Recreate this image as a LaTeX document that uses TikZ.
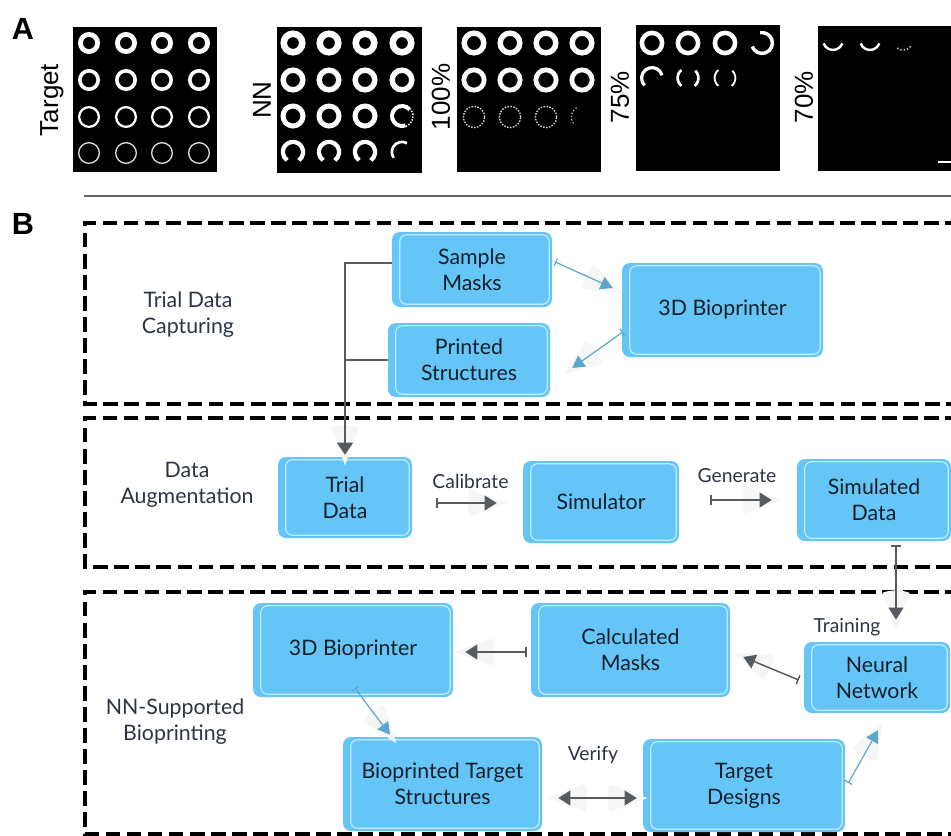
\documentclass[tikz,border=0pt]{standalone}
\usepackage{fontspec}
\setmainfont{Lato}
\newfontfamily\arialf{Liberation Sans}
\usetikzlibrary{calc,arrows.meta}

\definecolor{boxblue}{HTML}{66C5F7}
\definecolor{boxrim}{HTML}{C2EAFD}
\definecolor{flowteal}{HTML}{5AA7CA}
\definecolor{flowgray}{HTML}{565B60}
\definecolor{ink}{HTML}{141F2A}
\definecolor{glowfill}{HTML}{F6F6F7}

\newcommand\boxfont{\fontsize{16}{19.5}\selectfont}
\newcommand\stagefont{\fontsize{16}{19.5}\selectfont}
\newcommand\verbfont{\fontsize{14.5}{17}\selectfont}

% soft wedge behind an arrow head, pointing along the arrow
\newcommand\glow[2]{%
  \fill[glowfill] let \p1=(#1), \p2=(#2), \n1={atan2(\y2-\y1,\x2-\x1)} in
    ($(\p2)+(\n1:8pt)$) -- ++(\n1+160:30pt)
    arc[start angle=\n1+160, end angle=\n1+200, radius=30pt] -- cycle;}

\tikzset{
  box/.style={rectangle, rounded corners=6pt, fill=boxblue, text=ink,
    align=center, font=\boxfont, inner sep=0pt},
  rim/.style={draw=boxrim, line width=0.9pt, rounded corners=5pt},
  stage/.style={align=center, font=\stagefont, text=ink!90},
  verb/.style={font=\verbfont, text=ink!90},
  zone/.style={draw=black, line width=2.6pt, dash pattern=on 11pt off 4.8pt},
  gline/.style={draw=flowgray, line width=1.1pt},
  tline/.style={draw=flowteal, line width=0.9pt},
  gflow/.style={gline, {Bar[width=7pt]}-{Triangle[length=9pt,width=11pt]}},
  tflow/.style={tline, {Bar[width=6pt]}-{Triangle[length=9pt,width=10pt]}},
  ring/.style={draw=white},
  plabel/.style={font=\arialf\fontsize{19.5}{20}\selectfont, rotate=90},
  letter/.style={font=\arialf\bfseries\fontsize{23}{24}\selectfont}
}

\begin{document}
\begin{tikzpicture}[x=0.75pt,y=-0.75pt]
\useasboundingbox (0,0) rectangle (951,836);

% ---------------- panel A ----------------
\node[letter] (la) at (23,29) {A};

% target masks
\fill[black] (73,27) rectangle (217,172);
\foreach \x in {89,126,162,199}{
  \draw[ring, line width=3.6pt]  (\x,43)  circle[radius=6.45pt];
  \draw[ring, line width=2.7pt] (\x,80)  circle[radius=6.9pt];
  \draw[ring, line width=1.7pt] (\x,117) circle[radius=7.4pt];
  \draw[draw=white!85!black, line width=1pt] (\x,153) circle[radius=7.75pt];
}
\node[plabel] (lt) at (52,100) {Target};

% NN prints
\fill[black] (277,27) rectangle (422,173);
\foreach \x in {293,329,365,402}{
  \draw[ring, line width=4.9pt] (\x,43) circle[radius=6.95pt];
  \draw[ring, line width=4.1pt] (\x,80) circle[radius=7.35pt];
}
\foreach \x in {293,329,365}{
  \draw[ring, line width=3.75pt] (\x,116) circle[radius=7.5pt];
  \draw[ring, line width=3.2pt] (\x,152) ++(-55:7.6pt) arc[start angle=-55, end angle=235, radius=7.6pt];
}
\draw[ring, line width=3pt] (402,116) ++(40:7.5pt) arc[start angle=40, end angle=290, radius=7.5pt];
\draw[ring, line width=1.2pt, dash pattern=on 1pt off 1.2pt] (402,116) ++(-70:8.3pt) arc[start angle=-70, end angle=40, radius=8.3pt];
\draw[ring, line width=2pt] (402,152) ++(60:7.6pt) arc[start angle=60, end angle=215, radius=7.6pt];
\node[plabel] (ln) at (262,100) {NN};

% 100 %
\fill[black] (457,27) rectangle (601,172);
\foreach \x in {474,510,546,582}{
  \draw[ring, line width=4.1pt] (\x,43) circle[radius=7.35pt];
  \draw[ring, line width=3.6pt] (\x,80) circle[radius=7.6pt];
}
\foreach \x in {474,510,546}{
  \draw[draw=white!85!black, line width=1pt, dash pattern=on 1.2pt off 1pt] (\x,117) circle[radius=8pt];
}
\draw[draw=white!75!black, line width=0.9pt, dash pattern=on 1pt off 1.5pt] (582,117) ++(120:8pt) arc[start angle=120, end angle=220, radius=8pt];
\node[plabel] (l100) at (441,97) {100\%};

% 75 %
\fill[black] (636,25) rectangle (780,171);
\foreach \x in {652,688,725}{
  \draw[ring, line width=3.4pt] (\x,43) circle[radius=7.6pt];
}
\draw[ring, line width=2.6pt] (762,43) ++(-160:7.8pt) arc[start angle=-160, end angle=100, radius=7.8pt];
\draw[ring, line width=2.4pt] (652,78) ++(15:7.8pt) arc[start angle=15, end angle=225, radius=7.8pt];
\foreach \x/\w in {688/2pt,725/1.4pt}{
  \draw[ring, line width=\w] (\x,78) ++(130:7.8pt) arc[start angle=130, end angle=230, radius=7.8pt];
  \draw[ring, line width=\w] (\x,78) ++(-50:7.8pt) arc[start angle=-50, end angle=45, radius=7.8pt];
}
\node[plabel] (l75) at (620,97) {75\%};

% 70 %
\fill[black] (818,26) rectangle (951,171);
\foreach \x in {833,870}{
  \draw[ring, line width=1.8pt] (\x,40) ++(200:7.5pt) arc[start angle=200, end angle=340, radius=7.5pt];
}
\draw[draw=white!80!black, line width=1.2pt, dash pattern=on 1pt off 1.5pt] (903,40) ++(235:7.5pt) arc[start angle=235, end angle=320, radius=7.5pt];
\draw[white, line width=1.6pt] (938,162) -- (951,162);
\node[plabel] (l70) at (804,97) {70\%};

% divider between the panels
\draw[draw=black!60, line width=1.1pt] (84,196) -- (951,196);

% ---------------- panel B ----------------
\node[letter] (lb) at (23,224) {B};

% stage frames
\draw[zone] (960,223) -- (85,223) -- (85,404) -- (960,404);
\draw[zone] (960,418) -- (85,418) -- (85,567) -- (960,567);
\draw[zone] (960,592) -- (85,592) -- (85,834) -- (960,834);

\node[stage] (st1) at (188,315) {Trial Data\\Capturing};
\node[stage] (st2) at (187,485) {Data\\Augmentation};
\node[stage] (st3) at (175,722) {NN-Supported\\Bioprinting};

% process boxes
\node[box, minimum width=120pt, minimum height=56.25pt] (sm)  at (472,269.5) {Sample\\Masks};
\node[box, minimum width=121.5pt, minimum height=55.5pt] (ps)  at (469,360) {Printed\\Structures};
\node[box, minimum width=150.75pt, minimum height=70.5pt] (bp1) at (722.5,310) {3D Bioprinter};
\node[box, minimum width=100.5pt, minimum height=60.75pt] (td)  at (345,497.5) {Trial\\Data};
\node[box, minimum width=117pt, minimum height=61.5pt] (sim) at (601,502) {Simulator};
\node[box, minimum width=115.5pt, minimum height=61.5pt] (sd)  at (874,500) {Simulated\\Data};
\node[box, minimum width=150pt, minimum height=70.5pt] (bp2) at (353,650) {3D Bioprinter};
\node[box, minimum width=149.25pt, minimum height=70.5pt] (cm)  at (630.5,650) {Calculated\\Masks};
\node[box, minimum width=109.5pt, minimum height=53.25pt] (nn)  at (877,677.5) {Neural\\Network};
\node[box, minimum width=149.25pt, minimum height=70.5pt] (bts) at (442.5,784) {Bioprinted Target\\Structures};
\node[box, minimum width=151.5pt, minimum height=69.75pt] (tds) at (744,785.5) {Target\\Designs};

\foreach \n in {sm,ps,bp1,td,sim,sd,bp2,cm,nn,bts,tds}{
  \draw[rim] ([xshift=6pt,yshift=-2.3pt]\n.north west) rectangle ([xshift=-2.3pt,yshift=2.3pt]\n.south east);
}

% connector end points
\coordinate (a1s) at ($(sm.east)+(3,-7.5)$);
\coordinate (a1t) at ($(bp1.west)+(-9,-22)$);
\coordinate (a2s) at ($(bp1.west)+(1,22)$);
\coordinate (a2t) at ($(ps.east)+(22,8)$);
\coordinate (a3s) at ($(td.east)+(24,5.5)$);
\coordinate (a3t) at ($(sim.west)+(-26,1)$);
\coordinate (a4s) at ($(sim.east)+(31,-2)$);
\coordinate (a4t) at ($(sd.west)+(-25,0)$);
\coordinate (a5s) at ($(sd.south)+(22,4)$);
\coordinate (a5t) at ($(nn.north)+(19,-22)$);
\coordinate (a6s) at ($(nn.west)+(-5,2.5)$);
\coordinate (a6t) at ($(cm.east)+(13,7)$);
\coordinate (a7s) at ($(cm.west)+(-4,2)$);
\coordinate (a7t) at ($(bp2.east)+(12,2)$);
\coordinate (a8s) at ($(bp2.south)+(2,-9)$);
\coordinate (a8t) at ($(bts.north)+(-52.5,-2)$);
\coordinate (a9s) at ($(bts.east)+(16,14)$);
\coordinate (a9t) at ($(tds.west)+(-6,12.5)$);
\coordinate (a10s) at ($(tds.east)+(3,-2.5)$);
\coordinate (a10t) at ($(nn.south)+(1,17)$);
\coordinate (a0t) at ($(td.north)+(0,-2)$);
\coordinate (a0k) at ($(td.north)+(0,-40)$);

% soft wedges behind the heads
\glow{a0k}{a0t}
\glow{a1s}{a1t}
\glow{a2s}{a2t}
\glow{a3s}{a3t}
\glow{a4s}{a4t}
\glow{a5s}{a5t}
\glow{a6s}{a6t}
\glow{a7s}{a7t}
\glow{a8s}{a8t}
\glow{a9t}{a9s}
\glow{a9s}{a9t}
\glow{a10s}{a10t}

% trial data collection tree
\draw[gline, -{Triangle[length=9pt,width=12pt]}] ([yshift=4.9pt]sm.west) -| (a0t);
\draw[gline] (ps.west) -- (ps.west -| td.north);

% flows
\draw[tflow] (a1s) -- (a1t);
\draw[tflow] (a2s) -- (a2t);
\draw[gflow] (a3s) -- (a3t) node[verb, midway, xshift=3pt, yshift=16.5pt] (vcal) {Calibrate};
\draw[gflow] (a4s) -- (a4t) node[verb, midway, xshift=-3pt, yshift=18.5pt] (vgen) {Generate};
\draw[gflow] (a5s) -- (a5t) node[verb, pos=1, xshift=-36.75pt, yshift=-5.25pt] (vtrn) {Training};
\draw[gflow] (a6s) -- (a6t);
\draw[gflow] (a7s) -- (a7t);
\draw[tflow] (a8s) -- (a8t);
\draw[gline, {Triangle[length=9pt,width=11pt]}-{Triangle[length=9pt,width=11pt]}] (a9s) -- (a9t) node[verb, midway, xshift=-3.4pt, yshift=32pt] (vver) {Verify};
\draw[tflow] (a10s) -- (a10t);
\end{tikzpicture}
\end{document}
